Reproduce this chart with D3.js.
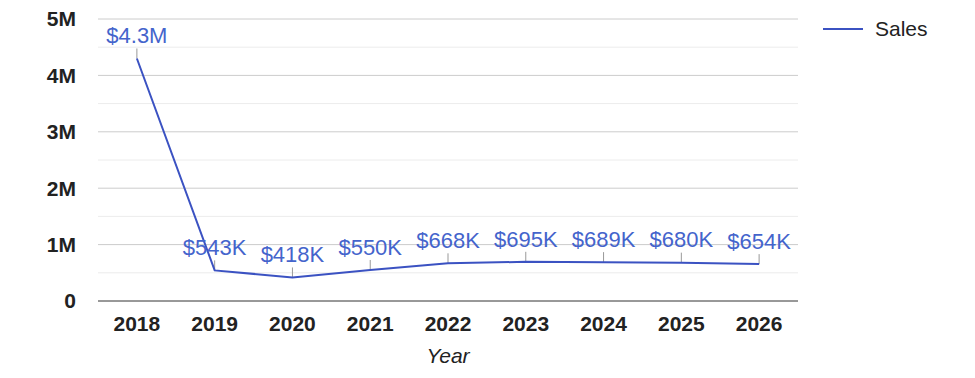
<!DOCTYPE html>
<meta charset="utf-8">
<head>
    <title>Sales by Year</title>
    <script src="https://cdn.jsdelivr.net/npm/d3@7"></script>
    <style>
        body { margin: 0; background: #fff; font-family: Arial, "Liberation Sans", sans-serif; }
        .tick-y { font-weight: bold; font-size: 21px; fill: #222; }
        .tick-x { font-weight: bold; font-size: 21px; fill: #222; }
        .lbl { font-size: 22px; fill: #4464cc; }
    </style>
</head>
<body>
    <div id="chart"></div>
    <script>
        // data
        var years = ["2018", "2019", "2020", "2021", "2022", "2023", "2024", "2025", "2026"];
        var sales = [4300000, 543000, 418000, 550000, 668000, 695000, 689000, 680000, 654000];
        var salesLabels = ["$4.3M", "$543K", "$418K", "$550K", "$668K", "$695K", "$689K", "$680K", "$654K"];
        var yTicks = [0, 1000000, 2000000, 3000000, 4000000, 5000000];
        var yTickLabels = ["0", "1M", "2M", "3M", "4M", "5M"];
        var minorTicks = [500000, 1500000, 2500000, 3500000, 4500000];

        var width = 975, height = 378;
        var margin = { top: 19, right: 177, bottom: 77, left: 98 };
        var lineColor = "#3b52c2";

        var svg = d3.select("#chart").append("svg")
            .attr("width", width)
            .attr("height", height);

        var x = d3.scaleBand()
            .domain(years)
            .range([margin.left, width - margin.right]);

        var y = d3.scaleLinear()
            .domain([0, 5000000])
            .range([height - margin.bottom, margin.top]);

        // minor gridlines
        svg.append("g").selectAll("line")
            .data(minorTicks)
            .enter().append("line")
            .attr("x1", margin.left).attr("x2", width - margin.right)
            .attr("y1", function(d) { return y(d); })
            .attr("y2", function(d) { return y(d); })
            .attr("stroke", "#ececec");

        // major gridlines
        svg.append("g").selectAll("line")
            .data(yTicks.slice(1))
            .enter().append("line")
            .attr("x1", margin.left).attr("x2", width - margin.right)
            .attr("y1", function(d) { return y(d); })
            .attr("y2", function(d) { return y(d); })
            .attr("stroke", "#cccccc");

        // baseline
        svg.append("line")
            .attr("x1", margin.left).attr("x2", width - margin.right)
            .attr("y1", y(0)).attr("y2", y(0))
            .attr("stroke", "#333");

        // y labels
        svg.append("g").selectAll("text")
            .data(yTicks)
            .enter().append("text")
            .attr("class", "tick-y")
            .attr("x", margin.left - 22)
            .attr("y", function(d) { return y(d); })
            .attr("dy", "0.35em")
            .attr("text-anchor", "end")
            .text(function(d, i) { return yTickLabels[i]; });

        // x labels
        svg.append("g").selectAll("text")
            .data(years)
            .enter().append("text")
            .attr("class", "tick-x")
            .attr("x", function(d) { return x(d) + x.bandwidth() / 2; })
            .attr("y", y(0) + 23)
            .attr("dy", "0.35em")
            .attr("text-anchor", "middle")
            .text(function(d) { return d; });

        // axis title
        svg.append("text")
            .attr("x", (margin.left + width - margin.right) / 2)
            .attr("y", 356)
            .attr("dy", "0.35em")
            .attr("text-anchor", "middle")
            .style("font-style", "italic")
            .style("font-size", "21px")
            .style("fill", "#222")
            .text("Year");

        var pts = years.map(function(d, i) { return { year: d, value: sales[i], label: salesLabels[i] }; });

        // leader ticks from labels to points
        svg.append("g").selectAll("line")
            .data(pts)
            .enter().append("line")
            .attr("x1", function(d) { return x(d.year) + x.bandwidth() / 2; })
            .attr("x2", function(d) { return x(d.year) + x.bandwidth() / 2; })
            .attr("y1", function(d) { return y(d.value) - 10; })
            .attr("y2", function(d) { return y(d.value); })
            .attr("stroke", "#999");

        // line
        var line = d3.line()
            .x(function(d) { return x(d.year) + x.bandwidth() / 2; })
            .y(function(d) { return y(d.value); });

        svg.append("path")
            .datum(pts)
            .attr("d", line)
            .attr("fill", "none")
            .attr("stroke", lineColor)
            .attr("stroke-width", 2);

        // value labels
        svg.append("g").selectAll("text")
            .data(pts)
            .enter().append("text")
            .attr("class", "lbl")
            .attr("x", function(d) { return x(d.year) + x.bandwidth() / 2; })
            .attr("y", function(d) { return y(d.value) - 23; })
            .attr("dy", "0.35em")
            .attr("text-anchor", "middle")
            .text(function(d) { return d.label; });

        // legend
        var legend = svg.append("g").attr("transform", "translate(823, 29)");
        legend.append("line")
            .attr("x1", 0).attr("x2", 40)
            .attr("stroke", lineColor).attr("stroke-width", 2);
        legend.append("text")
            .attr("x", 52).attr("dy", "0.35em")
            .style("font-size", "21px").style("fill", "#222")
            .text("Sales");
    </script>
</body>
</html>
